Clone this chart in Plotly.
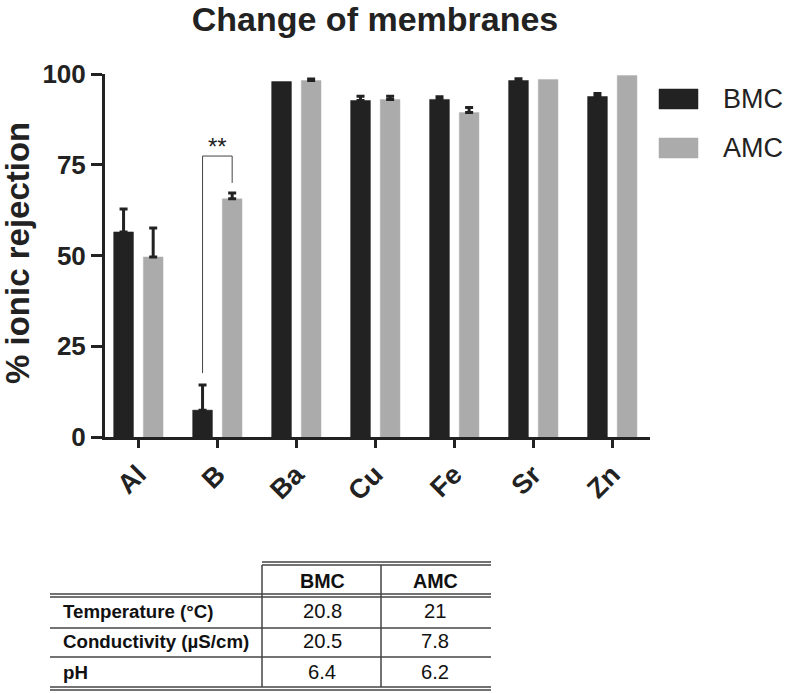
import numpy as np
import plotly.graph_objects as go

# ---------------- data ----------------
categories = ["Al", "B", "Ba", "Cu", "Fe", "Sr", "Zn"]
series_names = ["BMC", "AMC"]
bmc_values = [56.5, 7.4, 97.9, 92.7, 93.0, 98.2, 93.8]
bmc_err = [6.3, 6.9, None, 1.2, 0.7, 0.5, 0.8]
amc_values = [49.6, 65.6, 98.2, 93.0, 89.4, 98.5, 99.6]
amc_err = [8.0, 1.6, 0.4, 0.9, 1.4, None, None]
y_ticks = [0, 25, 50, 75, 100]

table_header = ["BMC", "AMC"]
table_params = ["Temperature (°C)", "Conductivity (µS/cm)", "pH"]
table_bmc = ["20.8", "20.5", "6.4"]
table_amc = ["21", "7.8", "6.2"]

sig_label = "**"

# ---------------- style ----------------
FONT = "Liberation Sans, Arial, sans-serif"
TFONT = "Liberation Sans, Arial, sans-serif"
DARK = "#222222"
GRAY = "#ababab"
W, H = 788, 693
L, R, T, B = 105, 138, 74, 256
PW, PH = W - L - R, H - T - B

bar_w = 0.25
off_bmc = -0.31
off_amc = 0.065

x_idx = list(range(len(categories)))


def err_arrays(vals):
    a = np.array([np.nan if v is None else v for v in vals], dtype=float)
    return a, a * 0.0


bmc_e, bmc_em = err_arrays(bmc_err)
amc_e, amc_em = err_arrays(amc_err)

fig = go.Figure()
fig.add_trace(go.Bar(
    x=x_idx, y=bmc_values, name=series_names[0], width=bar_w, offset=off_bmc,
    marker=dict(color=DARK, line=dict(color=DARK, width=0.5)),
    error_y=dict(type="data", symmetric=False, array=bmc_e, arrayminus=bmc_em,
                 color=DARK, thickness=3, width=4),
))
fig.add_trace(go.Bar(
    x=x_idx, y=amc_values, name=series_names[1], width=bar_w, offset=off_amc,
    marker=dict(color=GRAY, line=dict(color="#b5b5b5", width=0.5)),
    error_y=dict(type="data", symmetric=False, array=amc_e, arrayminus=amc_em,
                 color=DARK, thickness=3, width=4),
))


def px(xp):
    return (xp - L) / PW


def py(yp):
    return (T + PH - yp) / PH


shapes = []
annotations = []

# significance bracket on B
bi = categories.index("B")
xb = bi + off_bmc + bar_w / 2
xa = bi + off_amc + bar_w / 2
top = 77.4
shapes.append(dict(type="path", xref="x", yref="y",
                   path=f"M {xb},{bmc_values[bi] + bmc_err[bi] + 3.3} L {xb},{top} L {xa},{top} L {xa},{amc_values[bi] + amc_err[bi] + 2.8}",
                   line=dict(color="#444444", width=1)))
annotations.append(dict(x=(xb + xa) / 2, y=top, xref="x", yref="y", text=sig_label,
                        showarrow=False, yanchor="bottom", yshift=-6,
                        font=dict(family=FONT, size=24, color=DARK)))

# y axis title
annotations.append(dict(x=px(17), y=py(253), xref="paper", yref="paper",
                        text="% ionic rejection", textangle=-90, showarrow=False,
                        xanchor="center", yanchor="middle",
                        font=dict(family=FONT, size=33, color=DARK, weight="bold")))

# custom legend
for name, col, y0 in [(series_names[0], DARK, 89), (series_names[1], GRAY, 138)]:
    shapes.append(dict(type="rect", xref="paper", yref="paper",
                       x0=px(659), x1=px(698), y0=py(y0), y1=py(y0 + 20),
                       fillcolor=col, line=dict(color=col, width=0.5)))
    annotations.append(dict(x=px(721), y=py(y0 + 10), xref="paper", yref="paper",
                            text=name, showarrow=False, xanchor="left", yanchor="middle",
                            font=dict(family=FONT, size=27, color=DARK)))

# table lines
LC = "#444444"


def hline(y, x0, x1):
    shapes.append(dict(type="line", xref="paper", yref="paper",
                       x0=px(x0), x1=px(x1), y0=py(y), y1=py(y),
                       line=dict(color=LC, width=1.5)))


def vline(x, y0, y1):
    shapes.append(dict(type="line", xref="paper", yref="paper",
                       x0=px(x), x1=px(x), y0=py(y0), y1=py(y1),
                       line=dict(color=LC, width=1.5)))


hline(562, 262, 491)
hline(565, 262, 491)
hline(594, 50, 491)
hline(597, 50, 491)
hline(628, 50, 491)
hline(657, 50, 491)
hline(687, 50, 491)
hline(690, 50, 491)
vline(262, 565, 687)
vline(381, 565, 687)

TS = 18.7
col_x = [322, 435]
for cx, h in zip(col_x, table_header):
    annotations.append(dict(x=px(cx), y=py(581), xref="paper", yref="paper", text=h,
                            showarrow=False, xanchor="center", yanchor="middle",
                            font=dict(family=TFONT, size=TS + 1, color="#111111", weight="bold")))
row_y = [611, 641, 672]
for ry, p, vb, va in zip(row_y, table_params, table_bmc, table_amc):
    annotations.append(dict(x=px(61), y=py(ry), xref="paper", yref="paper", text=p,
                            showarrow=False, xanchor="left", yanchor="middle",
                            font=dict(family=TFONT, size=TS, color="#111111", weight="bold")))
    for cx, v in zip(col_x, [vb, va]):
        annotations.append(dict(x=px(cx), y=py(ry), xref="paper", yref="paper", text=v,
                                showarrow=False, xanchor="center", yanchor="middle",
                                font=dict(family=TFONT, size=TS + 1.5, color="#111111")))

fig.update_layout(
    width=W, height=H,
    margin=dict(l=L, r=R, t=T, b=B, autoexpand=False),
    paper_bgcolor="white", plot_bgcolor="white",
    showlegend=False,
    barmode="overlay",
    title=dict(text="Change of membranes", x=(375 - L) / PW, xref="paper", xanchor="center",
               y=1 - 19.5 / H, yref="container", yanchor="middle",
               font=dict(family=FONT, size=34, color=DARK, weight="bold")),
    shapes=shapes,
    annotations=annotations,
)
fig.update_xaxes(
    range=[-0.42, 6.48], tickmode="array", tickvals=x_idx, ticktext=categories,
    tickangle=-45, ticks="outside", ticklen=8, tickwidth=3, tickcolor=DARK,
    showline=True, linewidth=3, linecolor=DARK, showgrid=False, zeroline=False,
    tickfont=dict(family=FONT, size=27, color=DARK, weight="bold"),
    automargin=False,
)
fig.update_yaxes(
    range=[0, 100], tickmode="array", tickvals=y_ticks,
    ticks="outside", ticklen=11, tickwidth=3, tickcolor=DARK,
    showline=True, linewidth=3, linecolor=DARK, showgrid=False, zeroline=False,
    tickfont=dict(family=FONT, size=26, color=DARK, weight="bold"),
    automargin=False,
)

fig.write_html("out.html", config={"displayModeBar": False},
               post_script="document.body.style.margin='0px';document.body.style.padding='0px';")
